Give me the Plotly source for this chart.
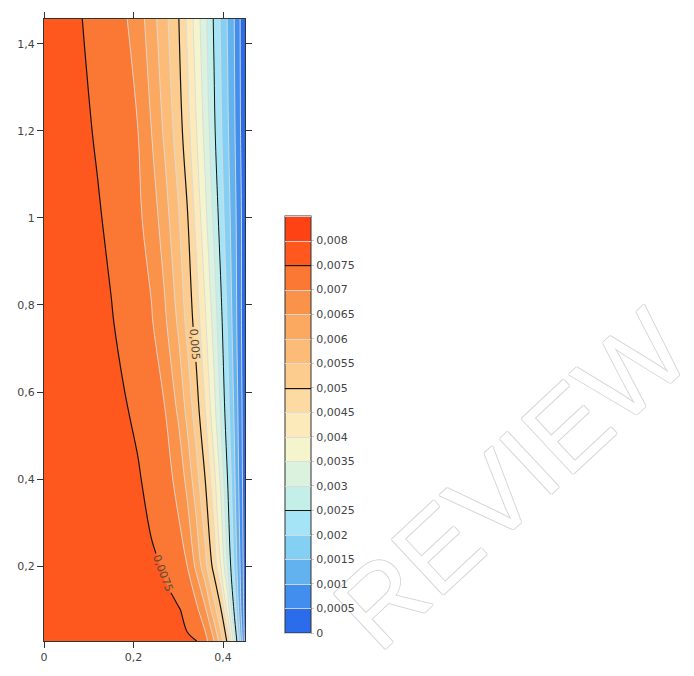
import plotly.graph_objects as go

# ---- data ----
X_COLS = [0.0, 0.05, 0.09, 0.12, 0.15, 0.18, 0.21, 0.24, 0.27, 0.30, 0.32, 0.34, 0.36, 0.38, 0.395, 0.41, 0.425, 0.44, 0.452]
Y_ROWS = [0.028, 0.1, 0.2, 0.4, 0.55, 0.76, 1.0, 1.2, 1.457]
Z_ROW_0028 = [0.00790, 0.00784, 0.00780, 0.00776, 0.00773, 0.00769, 0.00766, 0.00762, 0.00759, 0.00756, 0.00754, 0.00752, 0.00719, 0.00650, 0.00572, 0.00490, 0.00320, 0.001375, 0.0]
Z_ROW_010 = [0.00790, 0.00784, 0.00778, 0.00775, 0.00771, 0.00767, 0.00763, 0.00759, 0.00756, 0.00753, 0.00740, 0.00713, 0.00658, 0.00568, 0.00504, 0.00383, 0.00240, 0.00100, 0.0]
Z_ROW_020 = [0.00790, 0.00782, 0.00776, 0.00772, 0.00767, 0.00763, 0.00759, 0.00756, 0.00747, 0.00717, 0.00700, 0.00639, 0.00565, 0.00480, 0.00400, 0.00300, 0.00193, 0.00086, 0.0]
Z_ROW_040 = [0.00790, 0.00781, 0.00774, 0.00768, 0.00763, 0.00758, 0.00754, 0.00737, 0.00717, 0.00688, 0.00634, 0.00570, 0.00500, 0.00414, 0.00339, 0.00250, 0.00161, 0.00069, 0.0]
Z_ROW_055 = [0.00790, 0.00780, 0.00771, 0.00765, 0.00759, 0.00754, 0.00742, 0.00721, 0.00703, 0.00644, 0.00588, 0.00525, 0.00454, 0.00368, 0.00295, 0.00220, 0.00145, 0.00063, 0.0]
Z_ROW_076 = [0.00790, 0.00777, 0.00767, 0.00760, 0.00753, 0.00738, 0.00721, 0.00705, 0.00659, 0.00592, 0.00536, 0.00478, 0.00408, 0.00329, 0.00264, 0.00195, 0.00127, 0.00055, 0.0]
Z_ROW_100 = [0.00790, 0.00775, 0.00763, 0.00754, 0.00741, 0.00725, 0.00709, 0.00679, 0.00621, 0.00555, 0.00505, 0.00436, 0.00364, 0.00288, 0.00227, 0.00171, 0.00118, 0.00055, 0.0]
Z_ROW_120 = [0.00790, 0.00772, 0.00757, 0.00745, 0.00730, 0.00715, 0.00700, 0.00650, 0.00590, 0.00525, 0.00470, 0.00403, 0.00335, 0.00258, 0.00207, 0.00157, 0.00107, 0.00046, 0.0]
Z_ROW_1457 = [0.00790, 0.00766, 0.00748, 0.00734, 0.00720, 0.00706, 0.00675, 0.00623, 0.00564, 0.00504, 0.00441, 0.00378, 0.00313, 0.00243, 0.00194, 0.00147, 0.00100, 0.00043, 0.0]
Z_GRID = [Z_ROW_0028, Z_ROW_010, Z_ROW_020, Z_ROW_040, Z_ROW_055, Z_ROW_076, Z_ROW_100, Z_ROW_120, Z_ROW_1457]

LEVEL_START = 0.0
LEVEL_END = 0.0085
LEVEL_STEP = 0.0005
MAJOR_LEVELS_LABELLED = (0.005, 0.0075, 0.0025)   # start, end, step

CB_TICKVALS = [0.0, 0.0005, 0.001, 0.0015, 0.002, 0.0025, 0.003, 0.0035, 0.004,
               0.0045, 0.005, 0.0055, 0.006, 0.0065, 0.007, 0.0075, 0.008]
CB_TICKTEXT = ["0", "0,0005", "0,001", "0,0015", "0,002", "0,0025", "0,003", "0,0035", "0,004",
               "0,0045", "0,005", "0,0055", "0,006", "0,0065", "0,007", "0,0075", "0,008"]
WATERMARK = "REVIEW"

# ---- styles ----
BAND_COLORS = [
    "rgb(42,108,236)", "rgb(66,142,238)", "rgb(98,178,240)", "rgb(132,208,245)",
    "rgb(165,228,246)", "rgb(196,238,232)", "rgb(218,242,222)", "rgb(244,245,204)",
    "rgb(252,234,186)", "rgb(252,218,162)", "rgb(252,204,142)", "rgb(252,188,120)",
    "rgb(251,168,96)", "rgb(250,146,74)", "rgb(250,120,52)", "rgb(254,88,30)",
    "rgb(255,66,20)",
]
n_b = len(BAND_COLORS)
fill_scale = []
for i, c in enumerate(BAND_COLORS):
    fill_scale.append([i / n_b, c])
    fill_scale.append([(i + 1) / n_b, c])

GRAY = "rgba(218,218,218,0.9)"
CLEAR = "rgba(0,0,0,0)"
line_colors = [GRAY] * (n_b + 1)
line_colors[5] = "rgb(20,20,20)"
line_colors[10] = CLEAR
line_colors[15] = CLEAR
line_scale = [[k / n_b, c] for k, c in enumerate(line_colors)]

FONT = "DejaVu Sans"
cb_geom = dict(x=1.199, xanchor="left", xpad=0, y=0.348, yanchor="middle", ypad=0,
               len=0.6704, lenmode="fraction", thickness=26, thicknessmode="pixels")

fig = go.Figure()
fig.add_trace(go.Contour(
    x=X_COLS, y=Y_ROWS, z=Z_GRID,
    autocontour=False, zmin=LEVEL_START, zmax=LEVEL_END,
    contours=dict(start=LEVEL_START, end=LEVEL_END, size=LEVEL_STEP, coloring="fill", showlines=False),
    colorscale=fill_scale, line=dict(width=0, smoothing=1),
    colorbar=dict(**cb_geom, outlinecolor="#333", outlinewidth=1,
                  tickmode="array", tickvals=CB_TICKVALS, ticktext=CB_TICKTEXT,
                  ticks="outside", ticklen=3, tickcolor="#cccccc",
                  tickfont=dict(family=FONT, size=11, color="#444")),
    hoverinfo="skip",
))
fig.add_trace(go.Contour(
    x=X_COLS, y=Y_ROWS, z=Z_GRID,
    autocontour=False, zmin=LEVEL_START, zmax=LEVEL_END,
    contours=dict(start=LEVEL_START, end=LEVEL_END, size=LEVEL_STEP, coloring="lines"),
    colorscale=line_scale, line=dict(width=1, smoothing=1),
    colorbar=dict(**cb_geom, outlinewidth=0, showticklabels=False, ticks=""),
    hoverinfo="skip",
))
fig.add_trace(go.Contour(
    x=X_COLS, y=Y_ROWS, z=Z_GRID,
    autocontour=False, zmin=LEVEL_START, zmax=LEVEL_END,
    contours=dict(start=MAJOR_LEVELS_LABELLED[0], end=MAJOR_LEVELS_LABELLED[1],
                  size=MAJOR_LEVELS_LABELLED[2], coloring="lines", showlabels=True,
                  labelfont=dict(family=FONT, size=11, color="#5a4a3a")),
    colorscale=[[0, "rgb(20,20,20)"], [1, "rgb(20,20,20)"]], line=dict(width=1.2, smoothing=1),
    colorbar=dict(**cb_geom, outlinewidth=0, showticklabels=False, ticks=""),
    hoverinfo="skip",
))

axis_style = dict(showgrid=False, zeroline=False, showline=True, linecolor="#333", linewidth=1,
                  mirror="ticks", ticks="outside", ticklen=6, tickcolor="#333",
                  tickfont=dict(family=FONT, size=11, color="#444"))
fig.update_xaxes(range=[0, 0.449], tick0=0, dtick=0.2, **axis_style)
fig.update_yaxes(range=[0.028, 1.457], tick0=0, dtick=0.2, **axis_style)

# watermark drawn as a shape label so that the colour bar stays on top of it
fig.add_shape(
    type="rect", xref="paper", yref="paper", x0=2.19, x1=2.39, y0=0.222, y1=0.322,
    line=dict(width=0), fillcolor="rgba(0,0,0,0)", layer="above",
    label=dict(text=WATERMARK, textangle=-43, textposition="middle center",
               font=dict(family="Liberation Sans", size=110, color="white",
                         shadow="1px 0 0 #d6d6d6, -1px 0 0 #d6d6d6, 0 1px 0 #d6d6d6, 0 -1px 0 #d6d6d6")),
)

fig.update_layout(
    width=694, height=676, separators=", ",
    margin=dict(l=44, r=449, t=12, b=33, pad=0),
    paper_bgcolor="white", plot_bgcolor="white",
    showlegend=False,
)
fig.write_html("out.html")
